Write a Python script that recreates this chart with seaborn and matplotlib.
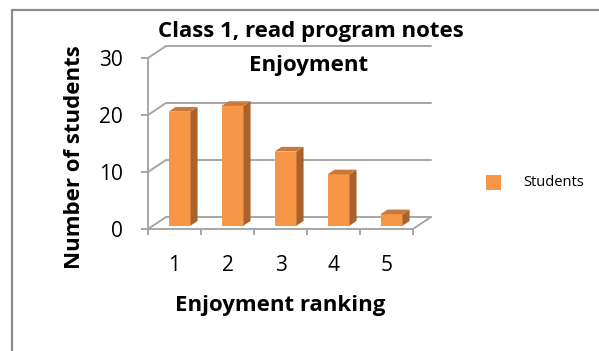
import matplotlib
matplotlib.use("Agg")
import matplotlib.pyplot as plt
from matplotlib.patches import Polygon, Rectangle
from matplotlib.lines import Line2D
import seaborn as sns
import pandas as pd

# --- data -------------------------------------------------------------
rankings = ["1", "2", "3", "4", "5"]
students = [20, 21, 13, 9, 2]
y_ticks = [0, 10, 20, 30]
series_name = "Students"
title_lines = ["Class 1, read program notes", "Enjoyment"]
x_label = "Enjoyment ranking"
y_label = "Number of students"

# --- style ------------------------------------------------------------
sns.set_theme(style="white")
plt.rcParams["font.family"] = ["Open Sans", "DejaVu Sans"]
plt.rcParams["text.color"] = "black"
plt.rcParams["axes.labelcolor"] = "black"

FRONT = "#F79646"
SIDE = "#A9622C"
TOP = "#C97A3A"
GRID = "#A6A6A6"
FRAME = "#8C8C8C"

W, H = 599, 351
fig = plt.figure(figsize=(W / 100, H / 100), dpi=100)

# plot area (front plane) in pixels
left_px, right_px = 148, 413
zero_px, top_px = 229, 58
ax = fig.add_axes([left_px / W, (H - zero_px) / H,
                   (right_px - left_px) / W, (zero_px - top_px) / H])
ax.set_facecolor("none")

df = pd.DataFrame({"ranking": rankings, "count": students})
bar_w = 22 / 53
sns.barplot(data=df, x="ranking", y="count", color=FRONT, width=bar_w,
            saturation=1, ax=ax, zorder=3)

ax.set_xlim(-0.5, len(rankings) - 0.5)
ax.set_ylim(0, y_ticks[-1])

# depth vector of the floor, in data units
sx = (right_px - left_px) / len(rankings)
sy = (zero_px - top_px) / y_ticks[-1]
DX, DY = 18 / sx, 12 / sy
f0, f1 = 0.28, 0.67  # bar front/back depth fraction

# back wall gridlines and left wall stubs
x0, x1 = -0.5, len(rankings) - 0.5
for v in y_ticks:
    ax.add_line(Line2D([x0 + DX, x1 + DX], [v + DY, v + DY], color=GRID,
                       lw=1.4, clip_on=False, zorder=1))
    ax.add_line(Line2D([x0, x0 + DX], [v, v + DY], color=GRID,
                       lw=1.4, clip_on=False, zorder=1))
# floor right edge
ax.add_line(Line2D([x1, x1 + DX], [0, DY], color=GRID, lw=1.4,
                   clip_on=False, zorder=1))

# extrude the bars
for p in ax.patches:
    bx, bw, bh = p.get_x(), p.get_width(), p.get_height()
    p.set_x(bx + f0 * DX)
    p.set_y(f0 * DY)
    p.set_edgecolor("none")
    fx0 = bx + f0 * DX
    fx1 = fx0 + bw
    fy0 = f0 * DY
    fy1 = fy0 + bh
    ddx, ddy = (f1 - f0) * DX, (f1 - f0) * DY
    side = Polygon([(fx1, fy0), (fx1 + ddx, fy0 + ddy),
                    (fx1 + ddx, fy1 + ddy), (fx1, fy1)],
                   closed=True, facecolor=SIDE, edgecolor="none",
                   zorder=3, clip_on=False)
    top = Polygon([(fx0, fy1), (fx1, fy1), (fx1 + ddx, fy1 + ddy),
                   (fx0 + ddx, fy1 + ddy)],
                  closed=True, facecolor=TOP, edgecolor="none",
                  zorder=3, clip_on=False)
    ax.add_patch(side)
    ax.add_patch(top)

# spines and ticks
for s in ["top", "right"]:
    ax.spines[s].set_visible(False)
for s in ["left", "bottom"]:
    ax.spines[s].set_color(GRID)
    ax.spines[s].set_linewidth(1.4)
    ax.spines[s].set_zorder(4)

ax.set_yticks(y_ticks)
ax.set_yticklabels([str(t) for t in y_ticks])
ax.tick_params(axis="y", direction="out", length=5, width=1.4, color=GRID,
               labelsize=15, pad=13, left=True, labelcolor="black")
ax.set_xticks(range(len(rankings)))
ax.set_xticklabels(rankings)
ax.set_xticks([i - 0.5 for i in range(len(rankings) + 1)], minor=True)
ax.tick_params(axis="x", which="major", length=0, labelsize=15, pad=19,
               labelcolor="black")
ax.tick_params(axis="x", which="minor", direction="out", length=4.3,
               width=1.4, color=GRID, bottom=True)

ax.set_xlabel(x_label, fontsize=16, fontweight="bold")
ax.set_ylabel(y_label, fontsize=16, fontweight="bold")
ax.xaxis.set_label_coords((280 - left_px) / (right_px - left_px),
                          -(305 - zero_px) / (zero_px - top_px))
ax.yaxis.set_label_coords(-(left_px - 74) / (right_px - left_px),
                          (zero_px - 157) / (zero_px - top_px))
ax.xaxis.label.set_va("center")
ax.yaxis.label.set_va("center")

# titles
fig.text(311 / W, 1 - 32 / H, title_lines[0], ha="center", va="center",
         fontsize=16, fontweight="bold")
fig.text(309 / W, 1 - 65 / H, title_lines[1], ha="center", va="center",
         fontsize=16, fontweight="bold")

# legend
fig.patches.append(Rectangle((486 / W, 1 - 190 / H), 15 / W, 15 / H,
                             transform=fig.transFigure, facecolor=FRONT,
                             edgecolor="none"))
fig.text(523 / W, 1 - 183 / H, series_name, ha="left", va="center",
         fontsize=10.5)

# chart frame
fig.add_artist(Line2D([12 / W, 12 / W], [0, 1 - 10 / H], color=FRAME,
                      lw=1.6, transform=fig.transFigure))
fig.add_artist(Line2D([12 / W, 1], [1 - 10 / H, 1 - 10 / H], color=FRAME,
                      lw=1.6, transform=fig.transFigure))

fig.savefig("out.png", dpi=100)
